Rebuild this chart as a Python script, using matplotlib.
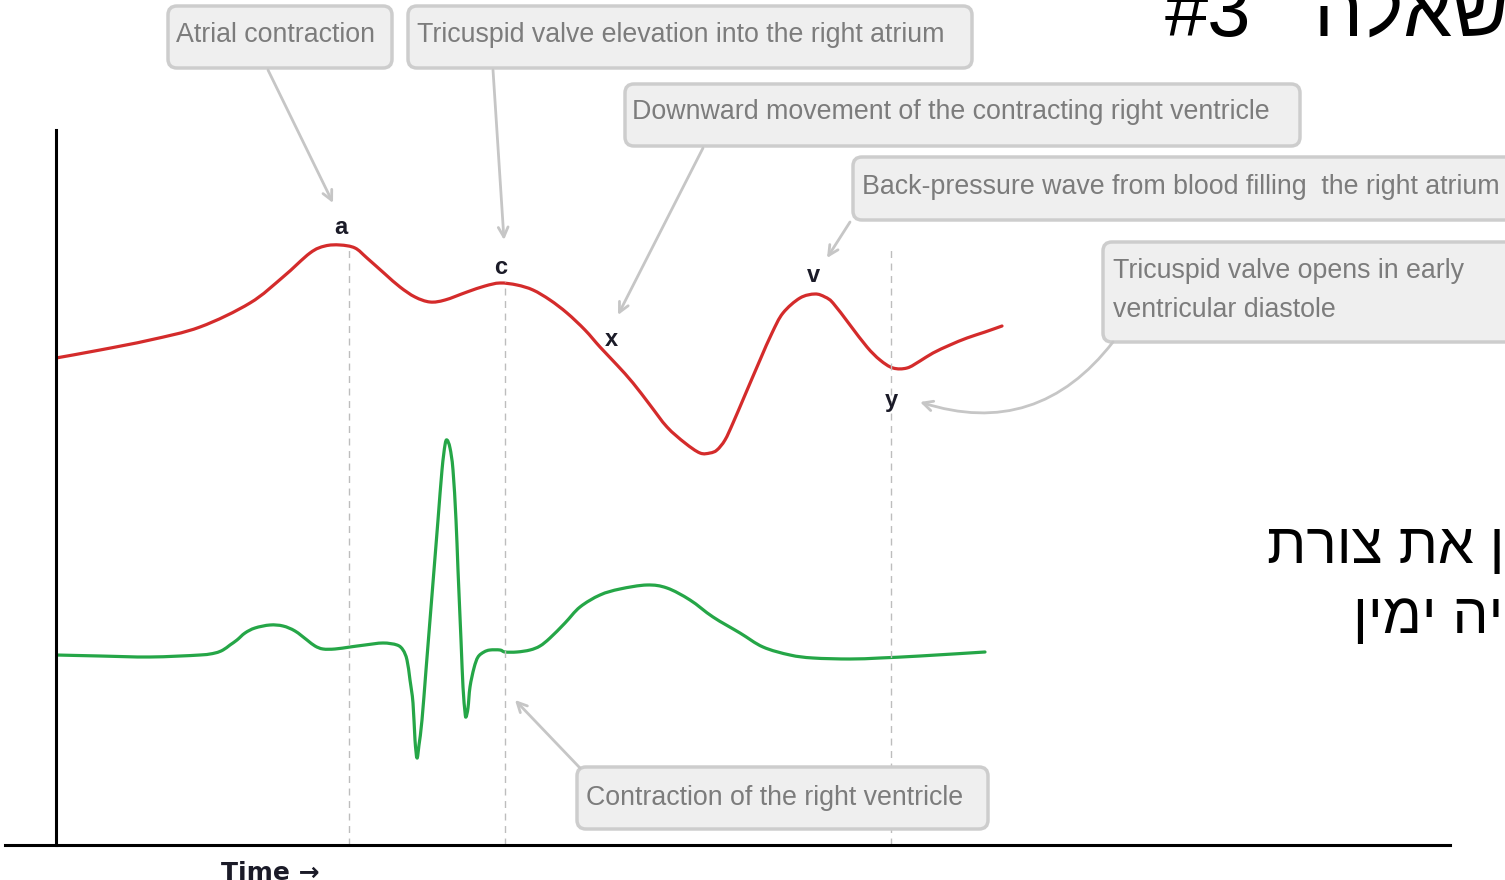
import matplotlib.pyplot as plt
from matplotlib.patches import FancyBboxPatch, PathPatch
from matplotlib.path import Path

# right atrial pressure trace (time, level) in arbitrary units
red_t = [0, 44, 94, 144, 194, 227, 254, 269, 284, 299, 311, 329, 344, 359, 374, 389,
         411, 429, 444, 461, 477, 494, 511, 529, 544, 561, 577, 594, 611, 629, 644,
         654, 661, 669, 677, 689, 704, 716, 727, 744, 759, 769, 777, 794, 811, 824,
         837, 851, 864, 877, 894, 911, 929, 946]
red_p = [487, 495, 505, 518, 542, 568, 592, 599, 600, 597, 587, 571, 558, 548, 543, 545,
         553, 559, 562, 560, 555, 545, 532, 515, 498, 480, 462, 440, 418, 402, 392,
         392, 395, 405, 422, 450, 485, 512, 532, 547, 551, 548, 542, 520, 498, 485,
         477, 477, 484, 492, 500, 507, 513, 519]

# ECG trace
ecg_t = [0, 44, 94, 144, 159, 167, 174, 181, 189, 199, 214, 227, 239, 251, 259, 267,
         279, 294, 309, 327, 341, 347, 351, 354, 357, 359, 361, 363, 366, 370, 374,
         378, 382, 386, 389, 391, 394, 397, 400, 402, 405, 407, 409, 410, 412, 414,
         418, 422, 428, 434, 444, 449, 461, 474, 484, 494, 509, 524, 544, 564, 591,
         611, 634, 657, 684, 707, 734, 757, 794, 824, 864, 929]
ecg_v = [190, 189, 188, 190, 192, 195, 200, 205, 212, 217, 220, 219, 214, 205, 199, 196,
         196, 198, 200, 202, 200, 195, 185, 165, 142, 105, 87, 100, 125, 175, 225,
         275, 325, 375, 400, 405, 397, 375, 325, 275, 205, 158, 133, 128, 137, 158,
         177, 188, 193, 195, 195, 193, 193, 195, 199, 207, 222, 238, 250, 256, 260,
         257, 245, 228, 212, 198, 190, 187, 186, 187, 189, 193]

# wave labels and dashed markers
wave_names = ['a', 'c', 'x', 'v', 'y']
wave_t = [285, 445, 555, 757, 835]
wave_p = [617, 578, 506, 570, 445]
marker_t = [293, 449, 835]
marker_top = [595, 563, 600]

notes = ['Atrial contraction',
         'Tricuspid valve elevation into the right atrium',
         'Downward movement of the contracting right ventricle',
         'Back-pressure wave from blood filling  the right atrium',
         'Tricuspid valve opens in early',
         'Contraction of the right ventricle']

RED = '#d42b2b'
GREEN = '#25a647'
BOX_FC = '#efefef'
BOX_EC = '#cdcdcd'
NOTE_C = '#7c7c7c'
ARROW_C = '#c6c6c6'
LBL_C = '#1b1b28'
NOTE_FONT = ['Liberation Sans', 'DejaVu Sans']
HEB_FONT = ['Liberation Sans', 'DejaVu Sans']
NOTE_SIZE = 19.3


def smooth_path(xs, ys):
    # bezier path through the read points (Catmull-Rom handles)
    verts = [(xs[0], ys[0])]
    codes = [Path.MOVETO]
    n = len(xs)
    for i in range(n - 1):
        x0, y0 = (xs[i - 1], ys[i - 1]) if i > 0 else (xs[i], ys[i])
        x1, y1 = xs[i], ys[i]
        x2, y2 = xs[i + 1], ys[i + 1]
        x3, y3 = (xs[i + 2], ys[i + 2]) if i + 2 < n else (x2, y2)
        verts += [(x1 + (x2 - x0) / 6, y1 + (y2 - y0) / 6),
                  (x2 - (x3 - x1) / 6, y2 - (y3 - y1) / 6),
                  (x2, y2)]
        codes += [Path.CURVE4] * 3
    return Path(verts, codes)


W, H = 1505, 880
fig = plt.figure(figsize=(W / 100, H / 100), dpi=100)

ax = fig.add_axes([56 / W, 35 / H, 1394 / W, 715 / H])
ax.set_xlim(0, 1394)
ax.set_ylim(0, 715)
for s in ['top', 'right', 'bottom']:
    ax.spines[s].set_visible(False)
ax.spines['left'].set_linewidth(2.2)
ax.spines['left'].set_color('black')
ax.set_xticks([])
ax.set_yticks([])
ax.patch.set_alpha(0)

ax.add_patch(PathPatch(smooth_path(red_t, red_p), fill=False, ec=RED, lw=2.3,
                       capstyle='round', joinstyle='round'))
ax.add_patch(PathPatch(smooth_path(ecg_t, ecg_v), fill=False, ec=GREEN, lw=2.3,
                       capstyle='round', joinstyle='round'))
for t, top in zip(marker_t, marker_top):
    ax.plot([t, t], [0, top], color='#bdbdbd', lw=1, ls=(0, (5, 4)))
for name, t, p in zip(wave_names, wave_t, wave_p):
    ax.text(t, p, name, ha='center', va='center', fontsize=17, fontweight='bold',
            color=LBL_C, family=['Liberation Sans', 'DejaVu Sans'])

# overlay in pixel space for the callouts and slide text
ov = fig.add_axes([0, 0, 1, 1])
ov.set_xlim(0, W)
ov.set_ylim(H, 0)
ov.axis('off')
ov.patch.set_alpha(0)

ov.plot([5, 1450], [845, 845], color='black', lw=2.2)

boxes = [(168, 6, 224, 62), (408, 6, 564, 62), (625, 84, 675, 62),
         (853, 157, 670, 63), (1103, 242, 420, 100), (577, 767, 411, 62)]
for (x, y, w, h) in boxes:
    ov.add_patch(FancyBboxPatch((x, y), w, h, boxstyle='round,pad=0,rounding_size=9',
                                fc=BOX_FC, ec=BOX_EC, lw=2.5))

note_pos = [(176, 35), (417, 35), (632, 112), (862, 187), (1113, 271), (586, 798)]
for txt, (x, y) in zip(notes, note_pos):
    ov.text(x, y, txt, ha='left', va='center', fontsize=NOTE_SIZE, color=NOTE_C,
            family=NOTE_FONT)
ov.text(1113, 310, 'ventricular diastole', ha='left', va='center', fontsize=NOTE_SIZE,
        color=NOTE_C, family=NOTE_FONT)

arrows = [((268, 70), (333, 203), 0), ((493, 70), (504, 240), 0),
          ((703, 148), (618, 315), 0), ((850, 222), (827, 258), 0),
          ((1113, 342), (920, 402), -0.35), ((580, 768), (515, 700), 0)]
for start, end, rad in arrows:
    ov.annotate('', xy=end, xytext=start,
                arrowprops=dict(arrowstyle='->,head_length=0.7,head_width=0.35',
                                color=ARROW_C, lw=2,
                                connectionstyle=f'arc3,rad={rad}',
                                shrinkA=0, shrinkB=0))

ov.text(270, 861, 'Time \u2192', ha='center', va='top', fontsize=18, fontweight='bold',
        color=LBL_C, family=['DejaVu Sans'])
ov.text(3, 390, 'Pressure \u2192', ha='right', va='center', rotation=90, fontsize=15,
        fontweight='bold', color=LBL_C, family=['Liberation Sans', 'DejaVu Sans'])

# Hebrew slide text, written in visual order
ov.text(1165, 36, '#3', ha='left', va='baseline', fontsize=56, color='black', family=HEB_FONT)
ov.text(1313, 36, '\u05d4\u05dc\u05d0\u05e9', ha='left', va='baseline', fontsize=56,
        color='black', family=HEB_FONT)
ov.text(1267, 563, '\u05ea\u05e8\u05d5\u05e6 \u05ea\u05d0 \u05df', ha='left', va='baseline',
        fontsize=41, color='black', family=HEB_FONT)
ov.text(1353, 633, '\u05df\u05d9\u05de\u05d9 \u05d4\u05d9\u05d9', ha='left', va='baseline',
        fontsize=41, color='black', family=HEB_FONT)

fig.savefig('out.png', dpi=100)
